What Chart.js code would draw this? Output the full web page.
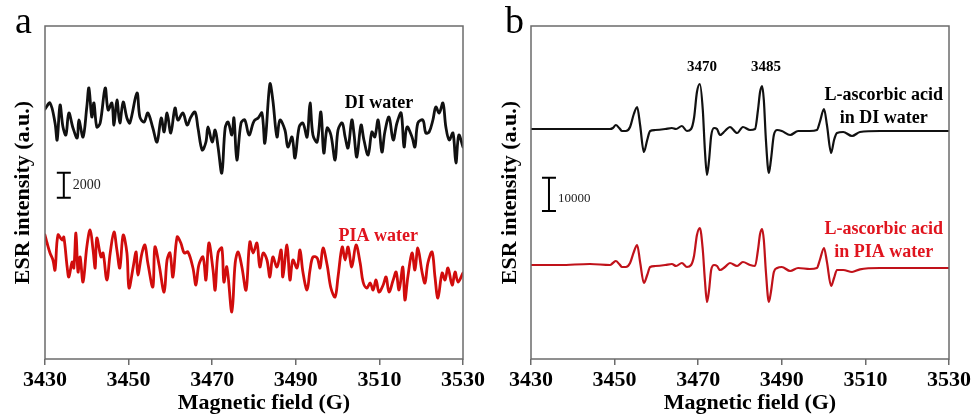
<!DOCTYPE html>
<html>
<head>
<meta charset="utf-8">
<title>ESR spectra</title>
<script src="https://cdn.jsdelivr.net/npm/chart.js@4.4.0/dist/chart.umd.min.js"></script>
<style>
  html, body { margin: 0; padding: 0; background: #fff; }
  #wrap { position: relative; width: 974px; height: 416px; }
  canvas { position: absolute; top: 0; }
  #chartA { left: 0; }
  #chartB { left: 487px; }
</style>
</head>
<body>
<div id="wrap">
  <canvas id="chartA" width="487" height="416"></canvas>
  <canvas id="chartB" width="487" height="416"></canvas>
</div>
<script>
// x axis ticks (G)
var fieldTicks = [3430, 3450, 3470, 3490, 3510, 3530];

// panel a: DI water (stacked on top)
var diWaterField = [
    3430.0, 3431.2, 3432.4, 3432.9, 3433.6, 3434.3, 3435.0, 3435.7, 3436.7, 3437.7,
    3438.1, 3439.1, 3440.0, 3440.5, 3441.2, 3441.7, 3442.4, 3443.2, 3444.4, 3445.1,
    3446.0, 3446.5, 3447.2, 3447.9, 3448.7, 3449.6, 3450.3, 3452.0, 3452.7, 3453.7,
    3454.6, 3455.8, 3456.8, 3457.8, 3458.5, 3459.2, 3460.1, 3461.1, 3461.8, 3463.0,
    3464.0, 3464.9, 3465.9, 3466.6, 3467.6, 3468.5, 3469.0, 3470.0, 3470.7, 3471.4,
    3472.3, 3473.1, 3473.8, 3474.7, 3475.2, 3475.9, 3476.9, 3477.8, 3478.8, 3479.8,
    3480.2, 3481.0, 3481.9, 3482.6, 3483.8, 3484.5, 3485.5, 3486.2, 3487.4, 3488.1,
    3489.1, 3489.8, 3490.8, 3491.7, 3492.7, 3493.4, 3494.1, 3495.1, 3496.0, 3496.7,
    3497.5, 3498.4, 3499.4, 3500.1, 3501.1, 3501.8, 3502.5, 3503.4, 3503.9, 3504.6,
    3505.6, 3506.3, 3507.3, 3508.2, 3508.9, 3509.7, 3510.6, 3511.3, 3512.3, 3513.3,
    3514.2, 3515.2, 3515.9, 3516.6, 3517.8, 3518.5, 3519.2, 3520.4, 3521.1, 3521.9,
    3522.8, 3523.5, 3524.3, 3525.2, 3525.9, 3526.7, 3527.6, 3528.3, 3529.0, 3530.0
];
var diWaterIntensity = [
    20000, 20480, 18880, 17520, 20320, 18560, 17920, 19680, 18480, 17680,
    19120, 17760, 20160, 21680, 19360, 20480, 18560, 18880, 21680, 19920,
    20480, 18720, 20720, 18880, 20560, 19280, 18880, 21280, 19360, 18960,
    19680, 18480, 17360, 19280, 18160, 19680, 18080, 20080, 19120, 19680,
    18720, 19360, 19760, 18480, 16720, 17360, 18560, 17360, 18320, 16960,
    14880, 18480, 18960, 17920, 19280, 15920, 18880, 19120, 17920, 18880,
    19120, 19280, 19680, 17280, 22000, 20720, 17760, 19120, 18320, 16960,
    17760, 16080, 18560, 18880, 17760, 20480, 17920, 17360, 19760, 16480,
    18480, 17920, 15920, 18320, 18880, 17760, 16880, 19120, 18080, 16160,
    18720, 17520, 16320, 18160, 17760, 19120, 16560, 18160, 19360, 17520,
    18880, 19680, 16960, 18560, 17760, 16960, 18880, 19120, 18080, 18160,
    19120, 20160, 19680, 20480, 18560, 17520, 18080, 15680, 17920, 16960
];

// panel a: PIA water
var piaWaterField = [
    3430.0, 3430.5, 3431.2, 3431.9, 3432.4, 3433.1, 3434.1, 3434.5, 3435.3, 3435.7,
    3436.5, 3436.9, 3437.4, 3437.9, 3438.4, 3439.1, 3440.0, 3440.8, 3441.5, 3442.0,
    3442.4, 3443.4, 3443.9, 3444.8, 3445.6, 3446.5, 3447.2, 3447.9, 3448.7, 3449.6,
    3450.1, 3451.1, 3451.8, 3452.2, 3453.2, 3453.9, 3454.6, 3455.8, 3456.3, 3457.3,
    3458.5, 3459.2, 3459.9, 3460.6, 3461.6, 3462.5, 3463.3, 3464.2, 3465.4, 3466.1,
    3466.8, 3467.8, 3468.5, 3469.2, 3470.2, 3470.7, 3471.4, 3472.3, 3472.8, 3473.5,
    3474.7, 3475.5, 3476.2, 3477.1, 3478.1, 3479.0, 3479.8, 3480.7, 3481.4, 3482.2,
    3483.1, 3483.8, 3484.5, 3485.5, 3486.5, 3486.9, 3487.9, 3488.6, 3489.3, 3490.3,
    3491.0, 3491.7, 3492.7, 3493.4, 3494.1, 3495.1, 3495.8, 3496.5, 3497.5, 3498.4,
    3499.4, 3500.1, 3501.1, 3501.8, 3502.5, 3503.4, 3504.4, 3505.4, 3506.1, 3507.0,
    3507.8, 3508.5, 3509.2, 3509.9, 3510.9, 3511.6, 3512.3, 3513.3, 3514.0, 3514.7,
    3515.6, 3516.1, 3516.8, 3517.8, 3518.5, 3519.2, 3520.2, 3520.9, 3521.6, 3522.6,
    3523.3, 3524.0, 3525.0, 3525.7, 3526.4, 3527.4, 3528.1, 3528.8, 3530.0
];
var piaWaterIntensity = [
    9920, 9280, 8480, 7920, 7120, 9920, 9520, 9760, 7360, 6560,
    7760, 7280, 10080, 6960, 8160, 6160, 8960, 10320, 8720, 7280,
    9680, 8160, 8480, 6320, 8480, 10160, 8720, 7280, 9920, 8480,
    5680, 7360, 8560, 6720, 8480, 9120, 7680, 5760, 8960, 7520,
    5360, 7920, 8480, 6560, 9760, 9280, 8480, 8560, 7280, 5920,
    7520, 8160, 6320, 9280, 7120, 5520, 8480, 8880, 6160, 7360,
    3760, 7680, 8560, 7360, 5520, 9360, 8480, 9280, 7360, 8480,
    7920, 6560, 8160, 7360, 8720, 6560, 9120, 6320, 7920, 7280,
    8720, 6960, 5520, 7120, 8160, 8080, 7280, 8880, 7520, 5680,
    4960, 6560, 8960, 7920, 8960, 7360, 9120, 7680, 6160, 5680,
    6080, 5520, 6320, 5360, 5920, 6560, 5360, 6320, 6960, 5520,
    7360, 4720, 6560, 8480, 7120, 8880, 6960, 6080, 7680, 8560,
    6560, 4880, 6880, 6320, 7280, 5920, 6960, 6160, 6880
];

// panel b: L-ascorbic acid, same sweep points for both samples
var ascorbicField = [
    3430.0, 3436.9, 3444.1, 3448.9, 3449.6, 3450.3, 3451.1, 3451.8, 3452.7, 3453.7,
    3454.6, 3455.4, 3456.1, 3457.0, 3457.8, 3458.5, 3459.7, 3462.1, 3463.7, 3464.7,
    3466.1, 3467.3, 3468.3, 3469.0, 3469.7, 3470.4, 3471.1, 3471.6, 3472.1, 3472.6,
    3473.1, 3473.8, 3474.5, 3475.2, 3476.4, 3477.6, 3479.3, 3480.7, 3482.4, 3483.6,
    3484.3, 3484.8, 3485.3, 3485.7, 3486.2, 3486.9, 3487.4, 3488.1, 3488.9, 3490.0,
    3492.0, 3493.9, 3496.7, 3498.4, 3499.1, 3500.1, 3500.8, 3501.8, 3502.5, 3503.2,
    3504.7, 3506.8, 3508.7, 3513.5, 3518.3, 3525.5, 3530.0
];
var ascorbicDiIntensity = [
    69000, 69000, 69000, 69000, 69300, 70200, 69300, 68400, 68400, 69600,
    73500, 75600, 70200, 62100, 65700, 68400, 68700, 69000, 69300, 69000,
    69900, 68400, 69000, 72300, 80100, 82500, 74700, 62700, 55200, 59700,
    66900, 69300, 69000, 67200, 68400, 69600, 67800, 69600, 68700, 69000,
    74700, 80100, 81900, 77700, 65700, 55800, 59700, 67200, 68700, 68400,
    67200, 68400, 68400, 68700, 71100, 75000, 70200, 61800, 65700, 67800,
    68100, 66900, 68100, 68400, 68400, 68400, 68400
];
var ascorbicPiaIntensity = [
    28200, 28200, 28500, 28200, 28800, 29400, 28500, 27600, 27600, 28800,
    32100, 34200, 29100, 22800, 25200, 27600, 27900, 28200, 28500, 27900,
    28800, 27600, 28200, 30900, 37200, 39300, 32700, 23700, 17100, 20700,
    26700, 28200, 27900, 26700, 27600, 28800, 27900, 29100, 28200, 27900,
    32700, 37500, 39000, 35700, 26100, 17100, 20100, 26100, 27300, 27600,
    26400, 27300, 27000, 27300, 29700, 33300, 29100, 21900, 24300, 26700,
    26700, 26100, 26900, 27300, 27300, 27300, 27300
];

var SERIF = '"Liberation Serif", "Times New Roman", serif';

function toPoints(xs, ys) {
    return xs.map(function (x, i) { return { x: x, y: ys[i] }; });
}

function makeDecor(cfg) {
    return {
        id: 'decor',
        afterDraw: function (chart) {
            var ctx = chart.ctx;
            var area = chart.chartArea;
            var xs = chart.scales.x, ys = chart.scales.y;
            ctx.save();

            // frame round the plot
            ctx.strokeStyle = '#6b6b6b';
            ctx.lineWidth = 1.5;
            ctx.strokeRect(area.left, area.top, area.right - area.left, area.bottom - area.top);

            // intensity scale bar
            var bx = xs.getPixelForValue(cfg.bar.field);
            var b0 = ys.getPixelForValue(cfg.bar.from);
            var b1 = ys.getPixelForValue(cfg.bar.from + cfg.bar.size);
            ctx.strokeStyle = '#000';
            ctx.lineWidth = 2;
            ctx.beginPath();
            ctx.moveTo(bx, b0); ctx.lineTo(bx, b1);
            ctx.moveTo(bx - 7, b0); ctx.lineTo(bx + 7, b0);
            ctx.moveTo(bx - 7, b1); ctx.lineTo(bx + 7, b1);
            ctx.stroke();
            ctx.fillStyle = '#222';
            ctx.font = cfg.bar.fontSize + 'px ' + SERIF;
            ctx.textAlign = 'left';
            ctx.textBaseline = 'middle';
            ctx.fillText(cfg.bar.text, bx + 9, (b0 + b1) / 2 + cfg.bar.dy);

            // trace labels
            ctx.textAlign = 'center';
            cfg.labels.forEach(function (l) {
                ctx.fillStyle = l.color;
                ctx.font = 'bold ' + l.size + 'px ' + SERIF;
                ctx.fillText(l.text, xs.getPixelForValue(l.field), ys.getPixelForValue(l.value));
            });

            // x axis title
            ctx.fillStyle = '#000';
            ctx.font = 'bold 22px ' + SERIF;
            ctx.fillText('Magnetic field (G)', (area.left + area.right) / 2 + 10, 403);

            // panel letter
            ctx.font = '38px ' + SERIF;
            ctx.textAlign = 'left';
            ctx.textBaseline = 'alphabetic';
            ctx.fillText(cfg.letter, cfg.letterX, 33);

            ctx.restore();
        }
    };
}

function makePanel(id, datasets, yMax, leftWidth, rightPad, decor) {
    return new Chart(document.getElementById(id), {
        type: 'line',
        data: { datasets: datasets },
        options: {
            responsive: false,
            animation: false,
            devicePixelRatio: 1,
            layout: { padding: { left: 0, right: rightPad, top: 26, bottom: 0 } },
            elements: { point: { radius: 0 }, line: { borderJoinStyle: 'round', borderCapStyle: 'round' } },
            plugins: { legend: { display: false }, tooltip: { enabled: false } },
            scales: {
                x: {
                    type: 'linear',
                    min: 3430,
                    max: 3530,
                    afterBuildTicks: function (scale) {
                        scale.ticks = fieldTicks.map(function (v) { return { value: v }; });
                    },
                    ticks: {
                        autoSkip: false,
                        maxRotation: 0,
                        padding: 2,
                        color: '#000',
                        font: { family: SERIF, size: 22, weight: 'bold' },
                        callback: function (v) { return String(v); }
                    },
                    grid: { drawOnChartArea: false, drawTicks: true, tickLength: 6, color: '#6b6b6b', lineWidth: 1.5 },
                    border: { display: false },
                    afterFit: function (scale) { scale.height = 57; }
                },
                y: {
                    min: 0,
                    max: yMax,
                    ticks: { display: false },
                    grid: { display: false, drawTicks: false },
                    border: { display: false },
                    title: {
                        display: true,
                        text: 'ESR intensity (a.u.)',
                        color: '#000',
                        font: { family: SERIF, size: 22, weight: 'bold' },
                        padding: { top: 10, bottom: 0 }
                    },
                    afterFit: function (scale) { scale.width = leftWidth; }
                }
            }
        },
        plugins: [makeDecor(decor)]
    });
}

makePanel('chartA', [
    {
        data: toPoints(diWaterField, diWaterIntensity),
        borderColor: '#111111',
        borderWidth: 2.8,
        tension: 0.35
    },
    {
        data: toPoints(piaWaterField, piaWaterIntensity),
        borderColor: '#d10c0c',
        borderWidth: 2.8,
        tension: 0.35
    }
], 26640, 45, 24, {
    letter: 'a',
    letterX: 15,
    bar: { field: 3434.5, from: 12900, size: 2000, text: '2000', fontSize: 14, dy: 0 },
    labels: [
        { text: 'DI water', field: 3509.9, value: 20480, color: '#000', size: 18 },
        { text: 'PIA water', field: 3509.7, value: 9840, color: '#e0141e', size: 18 }
    ]
});

makePanel('chartB', [
    {
        data: toPoints(ascorbicField, ascorbicDiIntensity),
        borderColor: '#111111',
        borderWidth: 2.2,
        cubicInterpolationMode: 'monotone'
    },
    {
        data: toPoints(ascorbicField, ascorbicPiaIntensity),
        borderColor: '#c0121a',
        borderWidth: 2.2,
        cubicInterpolationMode: 'monotone'
    }
], 99900, 44, 25, {
    letter: 'b',
    letterX: 18,
    bar: { field: 3434.3, from: 44400, size: 10000, text: '10000', fontSize: 13, dy: 4 },
    labels: [
        { text: '3470', field: 3470.9, value: 87600, color: '#000', size: 15 },
        { text: '3485', field: 3486.2, value: 87600, color: '#000', size: 15 },
        { text: 'L-ascorbic acid', field: 3514.4, value: 79200, color: '#000', size: 18 },
        { text: 'in DI water', field: 3514.4, value: 72300, color: '#000', size: 18 },
        { text: 'L-ascorbic acid', field: 3514.4, value: 39000, color: '#e0141e', size: 18 },
        { text: 'in PIA water', field: 3514.4, value: 32100, color: '#e0141e', size: 18 }
    ]
});
</script>
</body>
</html>
